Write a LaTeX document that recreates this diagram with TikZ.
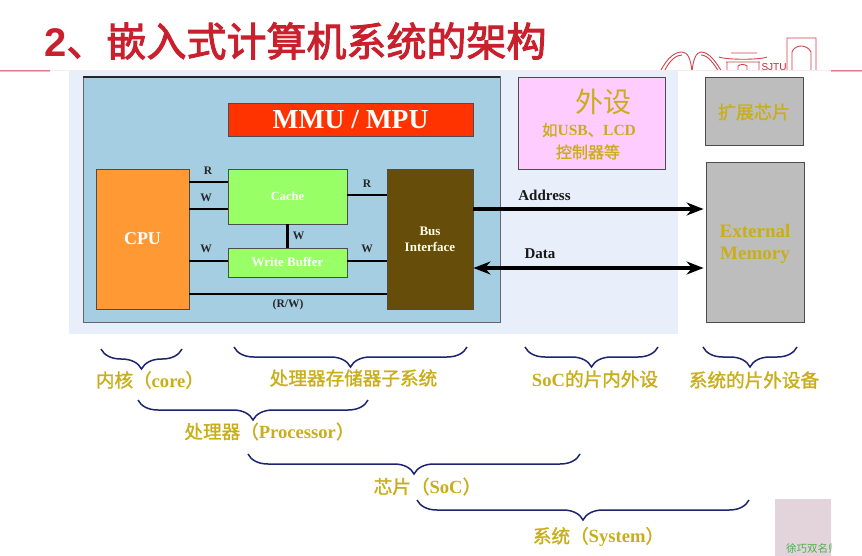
\documentclass[tikz,border=0pt]{standalone}
\usepackage{fontspec}
\setmainfont{Liberation Serif}
\newfontfamily\cjk{Noto Sans CJK SC}
\newfontfamily\cjkheavy{Noto Sans CJK SC}[FakeBold=1.4]
\newfontfamily\cjktitle{Noto Sans CJK SC}[FakeBold=2.4]
\newfontfamily\titlefont{Liberation Sans}
\newcommand{\zh}[1]{{\mdseries\cjkheavy #1}}
\usetikzlibrary{arrows.meta,decorations.pathreplacing}
\definecolor{titlered}{HTML}{C8202C}
\definecolor{soc back}{HTML}{E9EFFA}
\definecolor{core back}{HTML}{A6CEE3}
\definecolor{label gold}{HTML}{C9AE1A}
\definecolor{brace navy}{HTML}{1C2470}
\definecolor{stamp pink}{HTML}{E3D3DA}
\definecolor{mmu red}{HTML}{FF3300}
\definecolor{cpu orange}{HTML}{FF9933}
\definecolor{cache green}{HTML}{99FF66}
\definecolor{bus brown}{HTML}{664D0A}
\definecolor{periph pink}{HTML}{FFCCFF}
\definecolor{ext grey}{HTML}{BDBDBD}
\tikzset{
    sized/.style={inner sep=0pt,font=\fontsize{#1}{#1}\selectfont\bfseries},
    block/.style={draw=black!70,line width=.9pt,inner sep=0pt,align=center,text=white},
    gold text/.style={text=label gold,align=center},
    wire/.style={line width=2.2pt,black},
    wire label/.style={sized=11.5,text=black!85},
    bus arr/.style={line width=3.2pt,-{Stealth[length=17pt,width=13pt]},shorten >=2pt},
    bus arrs/.style={line width=3.2pt,{Stealth[length=17pt,width=13pt]}-{Stealth[length=17pt,width=13pt]},shorten >=2pt},
    bus label/.style={sized=15,text=black!90},
    brace line/.style={draw=brace navy,line width=1.5pt,decorate,decoration={brace,mirror,amplitude=20pt}},
    logo line/.style={draw=titlered!85,line width=.9pt},
}

\begin{document}
\begin{tikzpicture}[x=1pt,y=-1pt]
        \useasboundingbox (0,0) rectangle (862,556);

        \begin{scope}
            \clip (640,30) rectangle (830,71);
            \draw[logo line] (660,72) .. controls (668,56) and (676,52) .. (682,52) .. controls (688,52) and (691,60) .. (692,72)
                (692,72) .. controls (693,60) and (696,52) .. (701,52) .. controls (709,52) and (716,62) .. (722,72)
                (664,72) .. controls (670,59) and (677,55) .. (682,55)
                (701,55) .. controls (708,55) and (714,64) .. (719,72);
            \draw[logo line] (719,57) .. controls (727,60) and (760,60) .. (767,57) (731,53) -- (757,53)
                (726,62) -- (760,62) (727,62) -- (727,72) (759,62) -- (759,72)
                (738,72) -- (738,66) .. controls (740,64) and (745,64) .. (747,66) -- (747,72);
            \draw[logo line] (787,72) -- (787,38) -- (816,38) -- (816,72)
                (792,72) -- (792,52) .. controls (795,44) and (807,44) .. (811,52) -- (811,72);
            \node[inner sep=0pt,text=titlered,font=\fontsize{10}{10}\titlefont] (logotext) at (774,67) {SJTU};
        \end{scope}
        \fill[titlered!90] (0,70.5) rectangle (50,71.5) (831,70.5) rectangle (862,71.5);
        \fill[titlered!10] (50,70.5) rectangle (831,71.5);

        \node[inner sep=0pt,anchor=west,text=titlered,font=\fontsize{40}{40}\selectfont] (title) at (44,41)
            {{\titlefont\bfseries 2}{\cjktitle 、嵌入式计算机系统的架构}};

        \fill[soc back] (69,71) rectangle (678,334);
        \draw[draw=black!60,fill=core back,line width=1pt] (83,77) rectangle (500,322);
        \draw[black!85,line width=1.4pt] (83,77) -- (500,77);

        \node[block,fill=mmu red,minimum width=245pt,minimum height=33pt,sized=27.5] (mmu) at (350.5,119.5) {MMU / MPU};
        \node[block,fill=cpu orange,minimum width=93pt,minimum height=140pt,sized=18] (cpu) at (142.5,239) {CPU};
        \node[block,fill=cache green,minimum width=119pt,minimum height=55pt,sized=12.5] (cache) at (287.5,196.5) {Cache};
        \node[block,fill=cache green,minimum width=119pt,minimum height=29pt,sized=13] (wbuf) at (287.5,262.5) {Write Buffer};
        \node[block,fill=bus brown,minimum width=86pt,minimum height=140pt,font=\fontsize{13}{16}\selectfont\bfseries,text=white!90!yellow] (bus) at (430,239) {Bus\\Interface};
        \node[block,fill=periph pink,minimum width=147pt,minimum height=92pt] (periph) at (591.5,123) {};
        \node[block,fill=ext grey,minimum width=98pt,minimum height=68pt] (chip) at (754.5,111) {};
        \node[block,fill=ext grey,minimum width=98pt,minimum height=160pt] (extmem) at (755,242) {};

        \node[gold text,font=\fontsize{28}{28}\cjk] (waishe) at (603,102) {外设};
        \node[gold text,font=\fontsize{15.5}{15.5}\bfseries] (rushi) at (589,130) {\zh{如}USB\zh{、}LCD};
        \node[gold text,font=\fontsize{16}{16}\cjkheavy] (kongzhi) at (588,152) {控制器等};
        \node[gold text,font=\fontsize{18}{18}\cjkheavy] (chiptext) at (754,112) {扩展芯片};
        \node[gold text,font=\fontsize{19}{21.5}\selectfont\bfseries] (memtext) at (755,244) {External\\Memory};

        \coordinate (rtop) at (0,182);
        \coordinate (wtop) at (0,209);
        \coordinate (rbus) at (0,195);
        \coordinate (wlow) at (0,261);
        \coordinate (rwbus) at (0,294);
        \coordinate (data) at (0,268);

        \draw[wire] (cpu.east |- rtop) -- (cache.west |- rtop);
        \draw[wire] (cpu.east |- wtop) -- (cache.west |- wtop);
        \draw[wire] (cache.east |- rbus) -- (bus.west |- rbus);
        \draw[wire] (cache.south) -- (wbuf.north);
        \draw[wire] (cpu.east |- wlow) -- (wbuf.west |- wlow);
        \draw[wire] (wbuf.east |- wlow) -- (bus.west |- wlow);
        \draw[wire] (cpu.east |- rwbus) -- (bus.west |- rwbus);
        \draw[bus arr] (bus.east |- wtop) -- (extmem.west |- wtop);
        \draw[bus arrs] (bus.east |- data) -- (extmem.west |- data);

        \node[wire label] (rone) at (208,171) {R};
        \node[wire label] (wone) at (206,198) {W};
        \node[wire label] (wtwo) at (206,249) {W};
        \node[wire label] (rtwo) at (367,184) {R};
        \node[wire label] (wthree) at (298.5,236) {W};
        \node[wire label] (wfour) at (367,249) {W};
        \node[wire label] (rw) at (288,305) {(R/W)};
        \node[bus label] (address) at (544.5,195) {Address};
        \node[bus label] (datatext) at (540,254) {Data};

        \foreach \leftx/\rightx/\topy in {101/182/349,234/467/347,525/658/347,703/797/347,138/368/400,248/580/454,417/749/500}
            \draw[brace line] (\leftx,\topy) -- (\rightx,\topy);

        \node[gold text,font=\fontsize{18.6}{18.6}\selectfont\bfseries] (core) at (150,380) {\zh{内核（}core\zh{）}};
        \node[gold text,font=\fontsize{18.6}{18.6}\cjkheavy] (memsys) at (353.5,378) {处理器存储器子系统};
        \node[gold text,font=\fontsize{18.6}{18.6}\selectfont\bfseries] (socper) at (595,379) {SoC\zh{的片内外设}};
        \node[gold text,font=\fontsize{18.6}{18.6}\cjkheavy] (offchip) at (754,380) {系统的片外设备};
        \node[gold text,font=\fontsize{18.6}{18.6}\selectfont\bfseries] (proc) at (269.5,431.5) {\zh{处理器（}Processor\zh{）}};
        \node[gold text,font=\fontsize{18.6}{18.6}\selectfont\bfseries] (soc) at (427.5,486.5) {\zh{芯片（}SoC\zh{）}};
        \node[gold text,font=\fontsize{18.6}{18.6}\selectfont\bfseries] (system) at (598.5,537) {\zh{系统（}System\zh{）}};

        \begin{scope}
            \clip (775,499) rectangle (831,556);
            \fill[stamp pink] (775,499) rectangle (831,556);
            \node[inner sep=0pt,anchor=west,text=green!55!black!70!white,font=\fontsize{10.5}{10.5}\cjk] (stamp) at (786,549) {徐巧双名师};
        \end{scope}
    \end{tikzpicture}
\end{document}
